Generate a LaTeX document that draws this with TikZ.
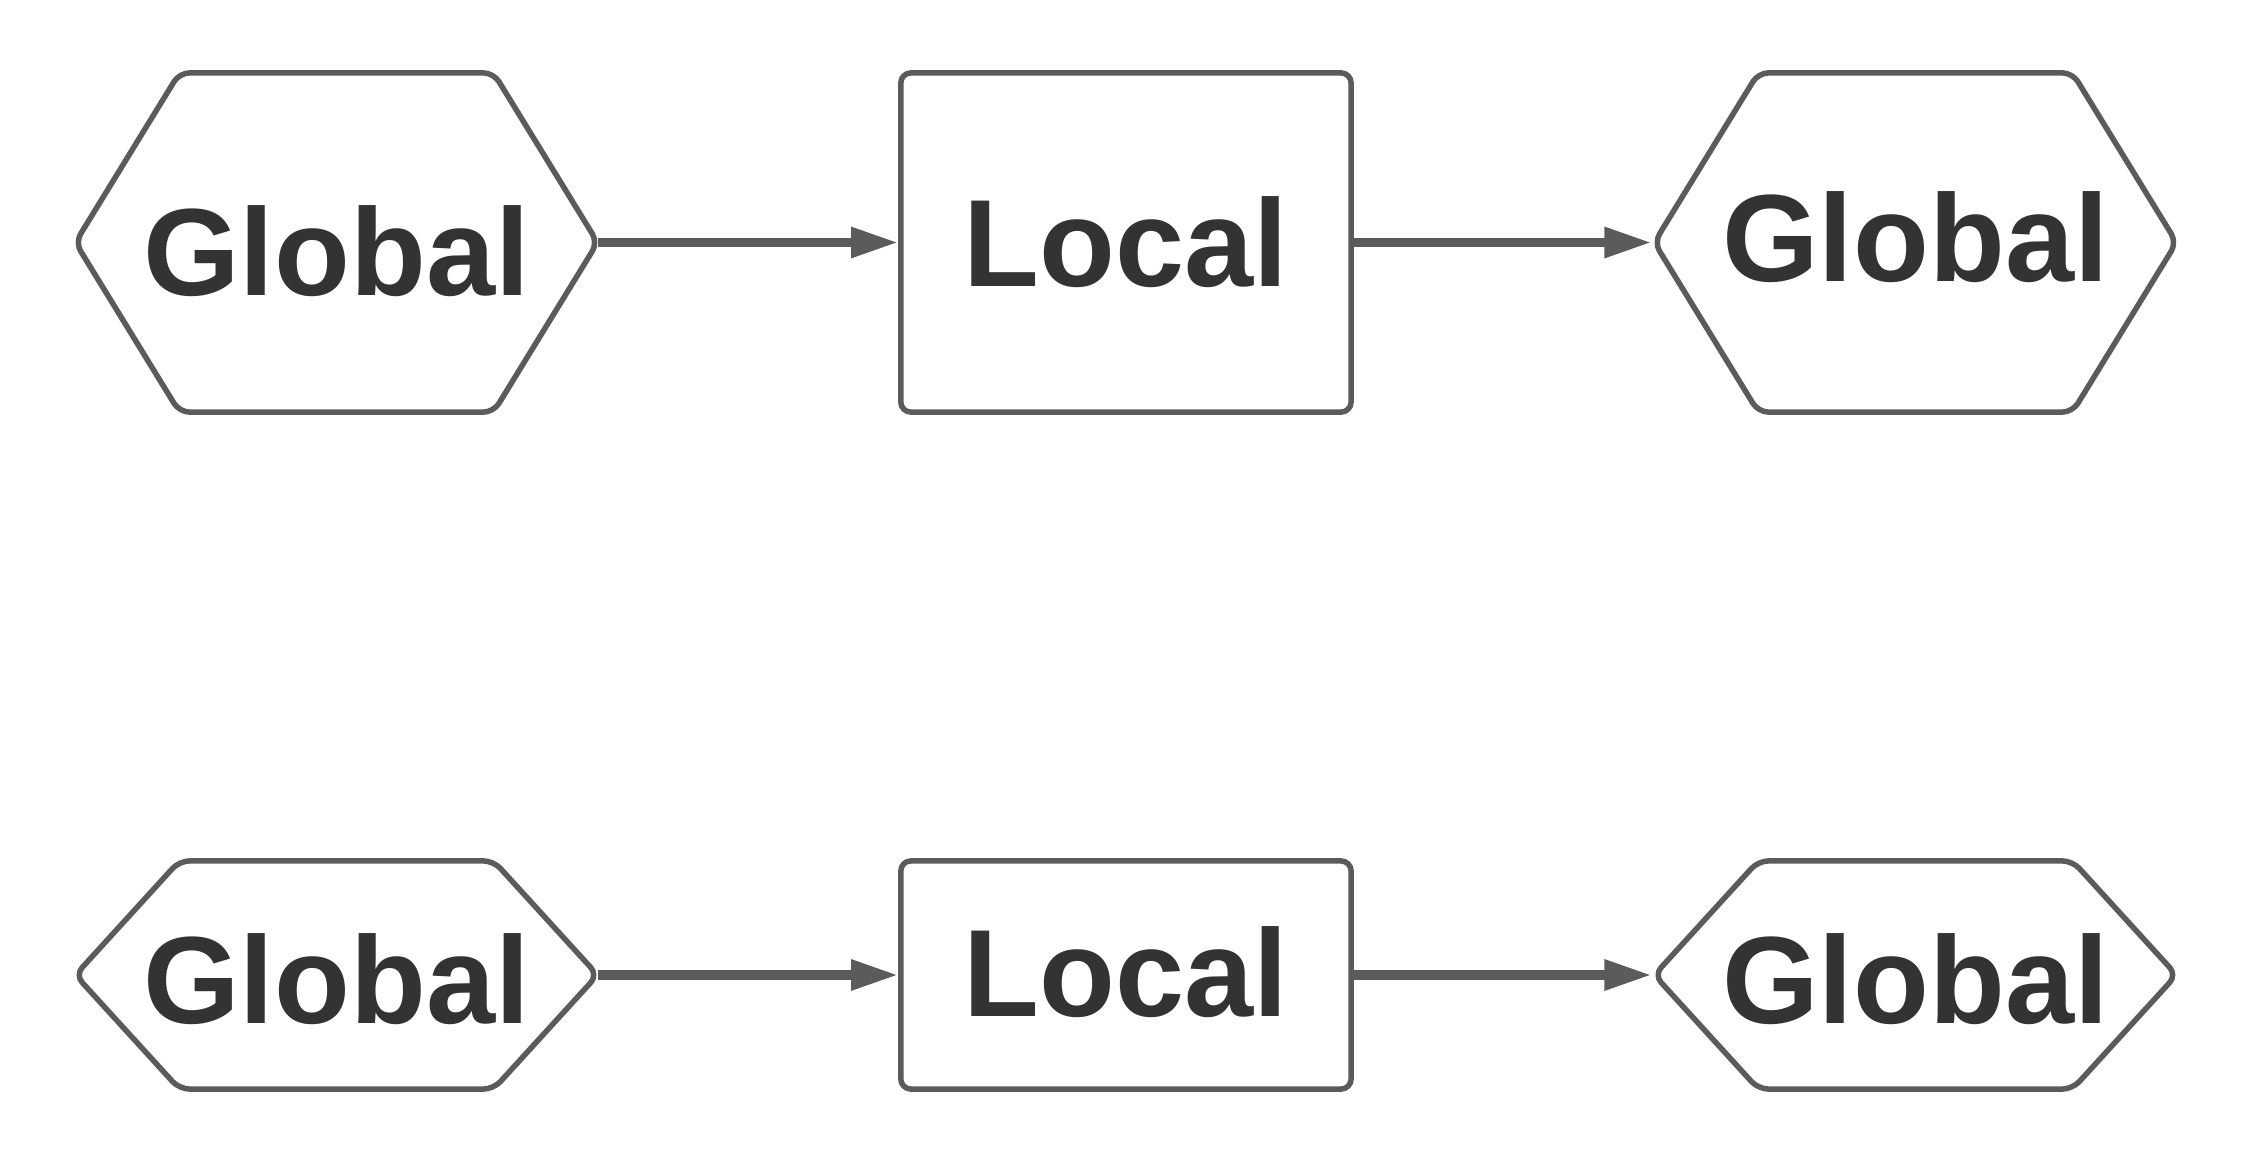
\documentclass[tikz,border=0pt]{standalone}
\usepackage{fontspec}
\setmainfont{Liberation Sans}
\usetikzlibrary{positioning,arrows.meta}
\definecolor{linegray}{HTML}{5B5B5B}
\definecolor{inkgray}{HTML}{333333}

% hexagon outline round a hexbox node
\newcommand{\hexframe}[1]{%
  \draw[edgeline] (#1.west) -- ([xshift=1.04cm]#1.north west) -- ([xshift=-1.04cm]#1.north east)
    -- (#1.east) -- ([xshift=-1.04cm]#1.south east) -- ([xshift=1.04cm]#1.south west) -- cycle;}

\begin{document}
\begin{tikzpicture}[x=0.01cm, y=0.01cm,
  edgeline/.style={draw=linegray, line width=0.055cm, rounded corners=0.1cm, line join=round},
  word/.style={text=inkgray, font=\bfseries\fontsize{35.3}{40}\selectfont, inner sep=0pt, outer sep=0pt},
  hexbox/.style={word, minimum width=5.22cm},
  localbox/.style={word, edgeline, minimum width=4.5cm},
  link/.style={draw=linegray, line width=0.09cm, shorten >=0.028cm, -{Triangle[length=0.47cm,width=0.29cm]}},
  node distance=3.03cm]
\useasboundingbox (0,0) rectangle (2250,-1164);
% tall row
\node[hexbox, minimum height=3.39cm, text height=30.6pt] (g1) at (336.5,-242.5) {Global};
\node[localbox, minimum height=3.39cm, right=of g1] (l1) {Local};
\node[hexbox, minimum height=3.39cm, text depth=3.2pt, right=of l1] (g2) {Global};
\hexframe{g1}
\hexframe{g2}
\draw[link] (g1.east) -- (l1.west);
\draw[link] (l1.east) -- (g2.west);
% flat row
\node[hexbox, minimum height=2.28cm, text height=27.7pt] (g3) at (336.5,-975) {Global};
\node[localbox, minimum height=2.28cm, text depth=1.7pt, right=of g3] (l2) {Local};
\node[hexbox, minimum height=2.28cm, text height=27.7pt, right=of l2] (g4) {Global};
\hexframe{g3}
\hexframe{g4}
\draw[link] (g3.east) -- (l2.west);
\draw[link] (l2.east) -- (g4.west);
\end{tikzpicture}
\end{document}
